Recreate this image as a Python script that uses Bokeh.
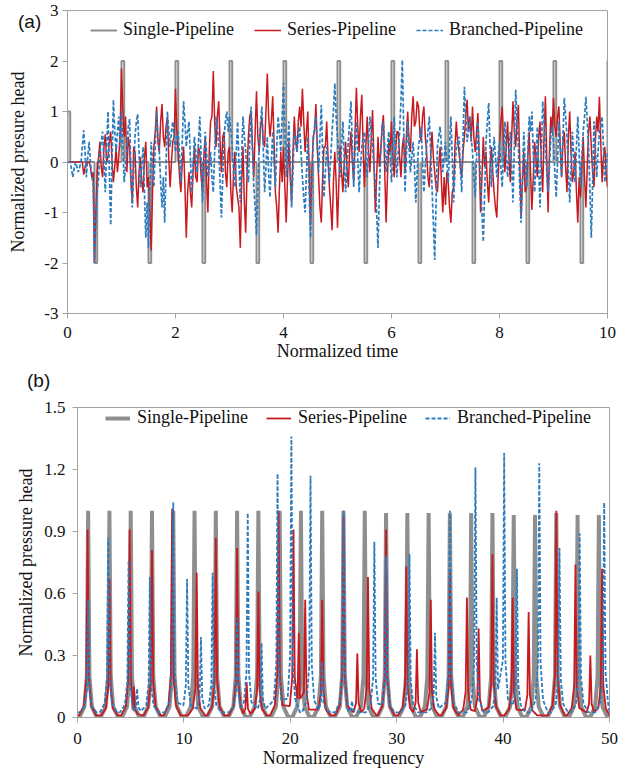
from bokeh.plotting import figure
from bokeh.models import Legend, LegendItem, FixedTicker, Div
from bokeh.embed import file_html
from bokeh.resources import INLINE

# ---------------- data: panel (a), time histories ----------------
time_step = 0.05  # spacing of the main samples; a mid sample sits between each pair

series_head = [
    0, 0, 0, 0, 0, 0, -0.25, 0.0, 0.0, -0.3,
    -2.0, -0.2, 0.4, -0.3, 0.55, 0.1, 0.6, -0.4, 0.3, 0.1,
    1.85, 0.5, -0.2, 0.3, -0.8, 0.2, -0.9, 0.1, -0.6, 0.4,
    -0.3, -1.75, 0.3, 1.1, 0.2, 1.15, 0.3, 0.9, -0.5, 0.4,
    1.45, 0.2, -0.6, 0.3, -1.5, -0.2, -0.9, 0.3, -0.4, 0.2,
    -0.6, 0.5, -1.0, 0.8, 1.8, 0.3, 1.2, -0.2, 0.6, -0.5,
    0.3, -1.0, 0.2, -0.7, -1.7, 0.3, -1.4, 0.5, 1.0, -0.3,
    1.4, 0.2, 0.9, 0.3, 1.75, 0.5, 1.3, -0.6, -1.4, 0.2,
    0.3, -1.2, 0.4, -0.8, 0.9, 0.2, 1.1, 1.45, 0.2, 1.0,
    -1.25, 0.5, 1.15, -0.3, -1.2, 0.3, 0.8, -0.5, -1.35, 0.2,
    -1.3, 0.3, -0.6, 0.4, -0.5, 0.6, -0.4, 1.47, 0.2, 1.33,
    -0.5, 0.9, -0.2, 1.03, -1.0, 0.5, 0.2, 0.93, -1.2, 0.4,
    0.8, -0.3, 0.6, 0.1, 0.3, -0.2, 1.0, 0.2, 1.3, 0.8,
    1.1, 0.4, 1.1, 0.2, -0.5, 0.6, -0.2, -0.6, 0.3, -1.0,
    -0.85, -0.4, -1.2, -0.5, 0.8, 0.2, -0.3, 0.5, 1.23, 0.9,
    1.1, 0.2, 0.97, -1.0, 0.5, 0.2, -0.8, 0.3, -0.6, -1.1,
    0.3, 1.1, -0.2, 0.8, -0.4, 1.2, 0.3, 1.13, -1.1, 0.2,
    -0.5, 0.6, -0.95, 0.4, -0.3, 0.8, -0.6, 1.3, -1.0, 0.9,
    1.27, 0.5, 1.1, -0.3, 0.6, -0.6, 1.0, -0.4, 0.2, -1.2,
    -0.7, 0.5, -0.9, 0.6, 0.3, -0.5, 0.9, 1.29, -0.4, 0.3,
    -0.5,
]
series_mid = [
    0, 0, 0, 0, 0, 0, -0.1, 0, -0.1, -0.2,
    -1.0, 0.1, -0.1, 0.3, 0.0, 0.4, 0.0, -0.1, -0.2, 0.6,
    1.0, 0.9, 0.5, -0.4, 0.3, -0.5, -0.2, -0.4, 0.1, -0.5,
    -1.0, -0.6, 0.6, 0.4, 0.8, 0.5, 0.7, 0.1, 0.0, 0.5,
    0.6, -0.3, 0.0, -0.5, -0.6, -0.6, -0.2, -0.3, 0.3, -0.3,
    0.1, -0.4, 0.2, 0.9, 0.8, 0.9, 0.4, 0.5, -0.2, 0.2,
    -0.6, -0.2, -0.5, -0.9, -0.4, -0.8, -0.2, 0.9, 0.3, 0.6,
    0.5, 0.7, 0.4, 1.0, 0.9, 0.8, 0.4, -0.9, -0.5, -0.4,
    -0.5, -0.3, -0.3, 0.2, 0.4, 0.8, 0.7, 0.8, 0.6, -0.2,
    -0.2, 0.6, 0.3, -0.9, -0.3, 0.3, 0.1, -0.9, -0.4, -0.4,
    -0.4, -0.2, 0.0, -0.1, 0.2, 0.0, 0.6, 0.7, 0.9, 0.3,
    0.3, 0.2, 0.5, 0.0, -0.3, -0.1, 0.7, -0.2, -0.3, 0.2,
    0.1, 0.2, 0.6, -0.3, 0.5, 0.5, 0.4, 0.9, 0.7, 1.2,
    0.6, 0.9, 0.5, -0.3, 0.1, 0.1, -0.5, -0.1, -0.4, -0.3,
    -0.2, -0.9, -0.6, 0.3, 0.4, -0.1, 0.2, 0.9, 0.6, 0.4,
    0.5, 0.6, 0.0, -0.3, -0.1, -0.4, -0.1, -0.2, -0.9, -0.3,
    0.8, 0.4, 0.3, 0.1, 0.5, 0.6, 0.8, 0.0, -0.4, -0.6,
    0.1, -0.2, -0.3, 0.1, 0.5, 0.0, 0.5, 0.1, 0.2, 0.6,
    0.7, 0.9, 0.3, 0.4, -0.1, 0.5, 0.2, -0.2, -0.6, -0.3,
    -0.1, -0.3, -0.1, 0.9, -0.2, 0.4, 0.6, 0.4, 0.1, -0.2,
]

branched_head = [
    0, 0, -0.3, 0.0, -0.2, 0.0, 0.63, -0.3, 0.4, -0.3,
    -2.0, -0.6, 0.2, 0.6, -0.6, 1.0, -1.25, 1.23, 0.2, 0.9,
    1.0, -0.4, 0.3, 0.85, -0.9, 0.5, 0.95, -0.5, 0.3, -1.5,
    -1.7, 0.4, -0.5, 1.0, 0.2, -0.9, -1.2, 1.0, 0.3, 0.8,
    0.2, 0.6, -0.4, 1.2, 0.3, 0.8, -0.6, 0.5, -0.2, 0.9,
    -0.8, 0.6, -0.3, 0.2, -0.6, 0.9, 0.3, -1.1, 0.5, 1.0,
    0.9, 0.3, -0.5, 0.8, -0.8, 0.9, 0.2, -0.4, 1.1, -0.5,
    -1.45, 0.3, 1.1, -0.6, 0.5, -0.7, 0.6, -0.5, 0.9, 0.2,
    1.57, -0.3, 0.8, -0.9, 0.6, 0.2, 0.7, -0.3, -1.0, 0.5,
    -1.5, 0.4, 0.9, -0.2, 1.13, -0.7, 0.3, -0.4, 0.6, 1.56,
    0.5, -0.3, 0.8, -0.6, 0.4, 1.2, -0.5, 0.8, -0.6, 0.3,
    0.6, -0.3, 0.9, 0.3, -0.4, -1.7, 0.2, 0.8, -0.2, 0.6,
    -0.4, 0.9, -0.3, 0.6, 2.02, -0.6, 0.8, -0.2, 0.4, -0.8,
    0.3, 0.7, -0.6, 0.3, 0.9, -0.5, -1.94, 0.3, 0.7, -0.2,
    0.4, -0.4, 0.9, -0.8, 0.3, 0.5, -0.6, 1.49, 0.4, 0.9,
    0.2, -0.7, 0.8, -0.4, -1.58, 0.4, 1.17, -0.5, 0.5, -0.3,
    0.4, -0.5, 0.8, -0.3, 0.6, -0.8, 1.43, 0.3, -1.2, 0.6,
    -0.5, 0.9, 1.0, -0.6, 0.7, -0.9, 1.2, 0.3, -0.6, 0.5,
    0.4, -0.7, 0.8, -0.3, 1.27, 0.5, -0.8, 0.6, -0.4, 0.9,
    -0.5, 0.6, 1.29, 0.3, -1.5, 0.8, -0.3, 0.6, 0.9, -0.4,
    0.2,
]
branched_mid = [
    0, -0.15, -0.1, -0.1, -0.1, 0.3, 0.2, 0.1, 0.0, -0.4,
    -1.2, -0.3, 0.4, 0.0, 0.3, -0.2, 0.0, 0.6, 0.6, 0.3,
    0.3, -0.1, 0.7, -0.2, -0.2, 0.8, 0.2, -0.1, -0.6, -0.8,
    -0.6, 0.0, 0.3, 0.5, -0.4, -0.3, -0.1, 0.6, 0.6, 0.5,
    0.5, 0.1, 0.4, 0.8, 0.6, 0.1, -0.1, 0.2, 0.4, 0.1,
    -0.1, 0.2, -0.1, -0.3, 0.2, 0.7, -0.4, -0.3, 0.8, 0.6,
    0.6, -0.2, 0.2, 0.0, 0.1, 0.5, -0.2, 0.4, 0.3, -0.9,
    -0.5, 0.8, 0.3, -0.1, -0.2, 0.0, 0.0, 0.3, 0.6, 0.9,
    0.6, 0.3, -0.1, -0.2, 0.5, 0.5, 0.2, -0.7, -0.2, -0.6,
    -0.5, 0.7, 0.4, 0.5, 0.2, -0.2, 0.0, 0.1, 1.0, 0.9,
    0.1, 0.3, 0.1, -0.1, 0.8, 0.3, 0.2, 0.1, -0.1, 0.5,
    0.1, 0.4, 0.6, -0.1, -1.0, -0.6, 0.6, 0.3, 0.3, 0.1,
    0.3, 0.2, 0.2, 1.2, 0.7, 0.1, 0.3, 0.1, -0.1, -0.2,
    0.5, 0.0, -0.1, 0.6, 0.2, -1.2, -0.8, 0.5, 0.3, 0.1,
    0.0, 0.3, 0.1, -0.2, 0.4, -0.1, 0.5, 0.9, 0.6, 0.5,
    -0.3, 0.1, 0.2, -1.0, -0.6, 0.8, 0.3, 0.0, 0.1, 0.1,
    -0.1, 0.2, 0.2, 0.1, -0.1, 0.3, 0.8, -0.5, -0.3, 0.0,
    0.2, 0.6, 0.2, 0.0, -0.1, 0.1, 0.8, -0.2, -0.1, 0.7,
    -0.2, 0.0, 0.3, 0.5, 0.9, -0.2, -0.1, 0.1, 0.3, 0.2,
    0.1, 0.9, 0.8, -0.6, -0.4, 0.3, 0.2, 0.7, 0.3, -0.1,
]

# single pipeline: square pulses (start time, level), each lasting single_pulse_width
single_pulse_t = [0.0, 0.5, 1.0, 1.5, 2.0, 2.5, 3.0, 3.5, 4.0, 4.5, 5.0,
                  5.5, 6.0, 6.5, 7.0, 7.5, 8.0, 8.5, 9.0, 9.5, 10.0]
single_pulse_v = [1, -2, 2, -2, 2, -2, 2, -2, 2, -2, 2,
                  -2, 2, -2, 2, -2, 2, -2, 2, -2, 2]
single_pulse_width = 0.05

# ---------------- data: panel (b), spectra (peak frequency, peak height) ----------------
single_peak_f = [1, 3, 5, 7, 9, 11, 13, 15, 17, 19, 21, 23, 25,
                 27, 29, 31, 33, 35, 37, 39, 41, 43, 45, 47, 49]
single_peak_h = [1.0, 1.0, 1.0, 1.0, 1.0, 1.0, 1.0, 1.0, 1.0, 1.0, 1.0, 1.0, 1.0,
                 1.0, 0.99, 0.99, 0.99, 0.99, 0.99, 0.99, 0.98, 0.98, 0.99, 0.98, 0.98]

series_peak_f = [0.95, 3.0, 4.9, 5.3, 7.0, 8.9, 11.2, 13.0, 15.0, 15.9, 17.0, 18.9,
                 20.3, 20.8, 21.4, 23.0, 25.0, 26.3, 27.3, 29.0, 30.9, 31.9, 33.2,
                 35.0, 36.6, 37.7, 39.0, 40.9, 42.4, 45.0, 46.8, 48.2, 49.3]
series_peak_h = [0.91, 0.67, 0.91, 0.15, 0.81, 1.01, 0.70, 0.87, 0.82, 0.17, 0.61, 1.00,
                 0.91, 0.41, 0.57, 0.57, 0.97, 0.31, 0.68, 0.91, 0.73, 0.33, 0.57,
                 0.70, 0.58, 0.43, 0.79, 0.58, 0.51, 1.00, 0.74, 0.30, 0.72]

branched_peak_f = [1.0, 2.9, 4.8, 5.6, 6.8, 9.0, 10.3, 11.6, 12.7, 15.0, 16.0, 17.3,
                   18.8, 20.1, 21.9, 23.0, 25.0, 25.8, 27.9, 29.0, 31.2, 33.6, 35.0,
                   37.4, 39.4, 40.1, 41.3, 43.4, 45.3, 47.2, 49.5]
branched_peak_h = [0.57, 0.87, 0.76, 0.14, 0.68, 1.04, 0.67, 0.39, 0.70, 0.48, 0.99, 0.36,
                   1.18, 1.36, 1.17, 0.27, 1.00, 0.08, 0.85, 0.78, 0.79, 0.41, 1.00,
                   1.21, 0.58, 1.28, 0.72, 1.23, 0.82, 0.89, 1.04]

panel_tags = ["(a)", "(b)"]

# ---------------- style ----------------
GRAY = "#8e8e8e"
RED = "#c8191e"
BLUE = "#2b7bbf"
AXIS = "#a3a3a3"
SERIF = "Liberation Serif"
SANS = "Liberation Sans"

# resonance-peak drawing template (offset in frequency, fraction of height above floor)
PEAK_DX = [-0.8, -0.35, -0.12, 0.0, 0.12, 0.35, 0.8]
PEAK_FR = [0.0, 0.05, 0.2, 1.0, 0.2, 0.05, 0.0]


def interleave(main, mid, dt):
    xs, ys = [], []
    for i, v in enumerate(main):
        xs.append(i * dt)
        ys.append(v)
        if i < len(mid):
            xs.append(i * dt + dt / 2)
            ys.append(mid[i])
    return xs, ys


def spectrum_line(freqs, heights, floor, fmax):
    order = sorted(range(len(freqs)), key=lambda i: freqs[i])
    fs = [freqs[i] for i in order]
    hs = [heights[i] for i in order]
    xs, ys = [0.0], [floor]
    for k, (f, h) in enumerate(zip(fs, hs)):
        lo = (fs[k - 1] + f) / 2 if k > 0 else 0.0
        hi = (f + fs[k + 1]) / 2 if k < len(fs) - 1 else fmax
        for dx, fr in zip(PEAK_DX, PEAK_FR):
            x = f + dx
            if lo < x < hi:
                xs.append(x)
                ys.append(floor + fr * (h - floor))
    xs.append(fmax)
    ys.append(floor)
    return xs, ys


def pulse_line(starts, levels, width, tmax):
    xs, ys = [0.0], [0.0]
    for t, v in zip(starts, levels):
        xs += [t, t, t + width, t + width]
        ys += [0.0, v, v, 0.0]
    xs.append(tmax)
    ys.append(0.0)
    return xs, ys


def style_axes(p):
    p.grid.visible = False
    p.outline_line_color = AXIS
    p.outline_line_width = 1
    p.background_fill_color = "white"
    p.border_fill_color = "white"
    for ax in (p.xaxis[0], p.yaxis[0]):
        ax.axis_line_color = AXIS
        ax.major_tick_line_color = AXIS
        ax.major_tick_in = 0
        ax.major_tick_out = 5
        ax.minor_tick_line_color = None
        ax.major_label_text_font = SERIF
        ax.major_label_text_font_size = "17px"
        ax.major_label_text_color = "#111111"
        ax.axis_label_text_font = SERIF
        ax.axis_label_text_font_size = "18px"
        ax.axis_label_text_font_style = "normal"
        ax.axis_label_text_color = "#111111"


def tag_div(text, left, top):
    return Div(text=text, width=30, height=24,
               styles={"position": "absolute", "left": f"{left}px", "top": f"{top}px",
                       "font-family": SANS, "font-size": "19px", "line-height": "22px",
                       "color": "#111111", "z-index": "10"})


# ---------------- panel (a) ----------------
pa = figure(width=621, height=366, x_range=(0, 10), y_range=(-3, 3),
            output_backend="svg", toolbar_location=None,
            min_border_left=67, min_border_right=14, min_border_top=10, min_border_bottom=53)
style_axes(pa)

tx_s, sy_s = interleave(series_head, series_mid, time_step)
tx_b, sy_b = interleave(branched_head, branched_mid, time_step)
px, py = pulse_line(single_pulse_t, single_pulse_v, single_pulse_width, 10.0)

ra1 = pa.line(px, py, line_color=GRAY, line_width=2)
ra2 = pa.line(tx_s, sy_s, line_color=RED, line_width=1.5)
ra3 = pa.line(tx_b, sy_b, line_color=BLUE, line_width=1.7, line_dash="4 2")

pa.xaxis.ticker = FixedTicker(ticks=[0, 2, 4, 6, 8, 10])
pa.yaxis.ticker = FixedTicker(ticks=[-3, -2, -1, 0, 1, 2, 3])
pa.yaxis.major_label_overrides = {-3: "-3", -2: "-2", -1: "-1", 0: "0", 1: "1", 2: "2", 3: "3"}
pa.xaxis.axis_label = "Normalized time"
pa.yaxis.axis_label = "Normalized presure head"
pa.xaxis.major_label_standoff = 8
pa.xaxis.axis_label_standoff = 0
pa.yaxis.major_label_standoff = 4
pa.yaxis.axis_label_standoff = 13

leg_a = Legend(items=[LegendItem(label="Single-Pipeline", renderers=[ra1]),
                      LegendItem(label="Series-Pipeline", renderers=[ra2]),
                      LegendItem(label="Branched-Pipeline", renderers=[ra3])],
               location=(23, 273), orientation="horizontal",
               glyph_width=27, glyph_height=20, label_height=20, label_standoff=6,
               spacing=20, padding=0, margin=0,
               label_text_font=SERIF, label_text_font_size="18px",
               label_text_color="#111111",
               background_fill_alpha=0, border_line_alpha=0)
pa.add_layout(leg_a)

# ---------------- panel (b) ----------------
pb = figure(width=621, height=409, x_range=(0, 50), y_range=(0, 1.5),
            output_backend="svg", toolbar_location=None,
            min_border_left=77, min_border_right=12, min_border_top=41, min_border_bottom=58)
style_axes(pb)

gx, gy = spectrum_line(single_peak_f, single_peak_h, 0.003, 50.0)
rx, ry = spectrum_line(series_peak_f, series_peak_h, 0.01, 50.0)
bx, by = spectrum_line(branched_peak_f, branched_peak_h, 0.025, 50.0)

rb1 = pb.line(gx, gy, line_color=GRAY, line_width=4)
rb2 = pb.line(rx, ry, line_color=RED, line_width=1.8)
rb3 = pb.line(bx, by, line_color=BLUE, line_width=1.8, line_dash="4 2")

pb.xaxis.ticker = FixedTicker(ticks=[0, 10, 20, 30, 40, 50])
pb.yaxis.ticker = FixedTicker(ticks=[0, 0.3, 0.6, 0.9, 1.2, 1.5])
pb.yaxis.major_label_overrides = {0: "0", 0.3: "0.3", 0.6: "0.6", 0.9: "0.9", 1.2: "1.2", 1.5: "1.5"}
pb.xaxis.axis_label = "Normalized frequency"
pb.yaxis.axis_label = "Normalized pressure head"
pb.xaxis.major_label_standoff = 10
pb.xaxis.axis_label_standoff = 1
pb.yaxis.major_label_standoff = 7
pb.yaxis.axis_label_standoff = 5

leg_b = Legend(items=[LegendItem(label="Single-Pipeline", renderers=[rb1]),
                      LegendItem(label="Series-Pipeline", renderers=[rb2]),
                      LegendItem(label="Branched-Pipeline", renderers=[rb3])],
               location=(28, 289), orientation="horizontal",
               glyph_width=25, glyph_height=20, label_height=20, label_standoff=7,
               spacing=18, padding=0, margin=0,
               label_text_font=SERIF, label_text_font_size="18px",
               label_text_color="#111111",
               background_fill_alpha=0, border_line_alpha=0)
pb.add_layout(leg_b)

tag_a = tag_div(panel_tags[0], 13, 6)
tag_b = tag_div(panel_tags[1], 22, 365)

open("out.html", "w").write(file_html([pa, pb, tag_a, tag_b], INLINE))
